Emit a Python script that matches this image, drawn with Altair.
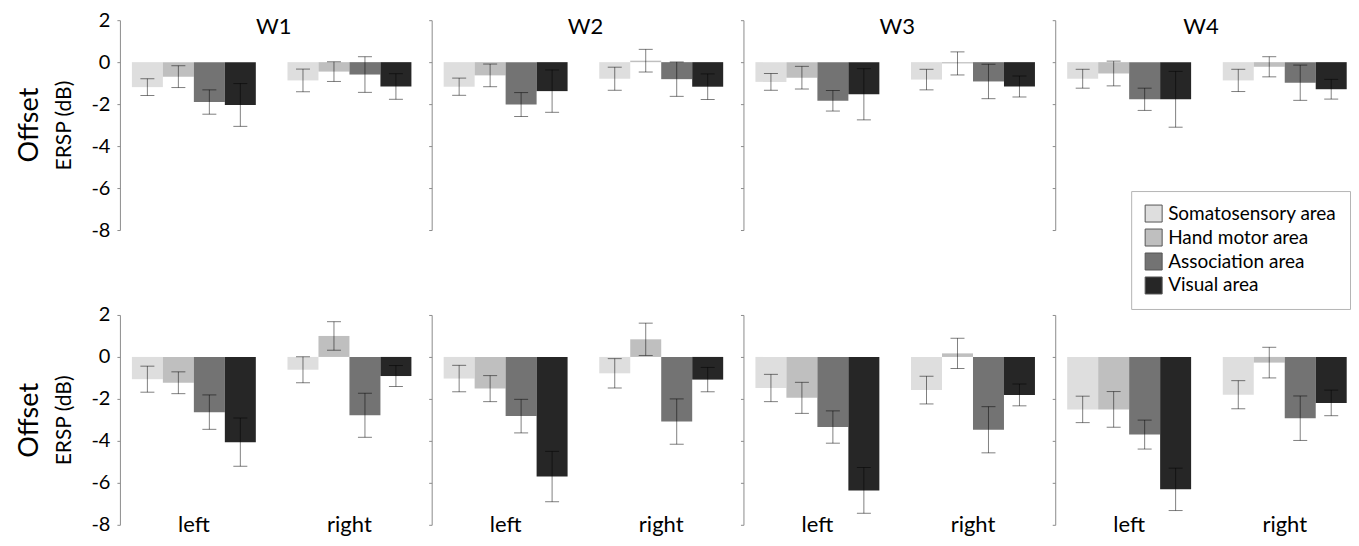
import altair as alt
import pandas as pd

weeks = ["W1", "W2", "W3", "W4"]
sides = ["left", "right"]
areas = ["Somatosensory area", "Hand motor area", "Association area", "Visual area"]
area_colors = ["#dedede", "#bfbfbf", "#737373", "#262626"]
y_ticks = [-8, -6, -4, -2, 0, 2]
row_label = "Offset"
y_title = "ERSP (dB)"

# values: left group (4 areas) then right group (4 areas)
top_w1_mean = [-1.19, -0.69, -1.90, -2.04, -0.87, -0.45, -0.59, -1.16]
top_w1_err = [0.40, 0.52, 0.58, 1.02, 0.54, 0.47, 0.85, 0.61]
top_w2_mean = [-1.17, -0.63, -2.02, -1.38, -0.79, 0.07, -0.81, -1.17]
top_w2_err = [0.41, 0.54, 0.57, 1.01, 0.55, 0.54, 0.82, 0.61]
top_w3_mean = [-0.94, -0.74, -1.84, -1.53, -0.83, -0.06, -0.92, -1.16]
top_w3_err = [0.40, 0.54, 0.49, 1.22, 0.49, 0.55, 0.82, 0.50]
top_w4_mean = [-0.79, -0.54, -1.77, -1.77, -0.87, -0.22, -0.98, -1.29]
top_w4_err = [0.45, 0.59, 0.53, 1.33, 0.53, 0.48, 0.84, 0.47]

bot_w1_mean = [-1.06, -1.23, -2.63, -4.06, -0.61, 1.00, -2.78, -0.91]
bot_w1_err = [0.62, 0.52, 0.82, 1.15, 0.62, 0.68, 1.05, 0.50]
bot_w2_mean = [-1.03, -1.51, -2.82, -5.70, -0.78, 0.84, -3.08, -1.08]
bot_w2_err = [0.63, 0.62, 0.80, 1.20, 0.70, 0.77, 1.08, 0.58]
bot_w3_mean = [-1.48, -1.95, -3.34, -6.36, -1.58, 0.17, -3.47, -1.81]
bot_w3_err = [0.65, 0.74, 0.77, 1.09, 0.66, 0.72, 1.10, 0.52]
bot_w4_mean = [-2.50, -2.50, -3.70, -6.31, -1.80, -0.27, -2.92, -2.19]
bot_w4_err = [0.63, 0.85, 0.69, 1.01, 0.67, 0.73, 1.06, 0.61]

top_means = [top_w1_mean, top_w2_mean, top_w3_mean, top_w4_mean]
top_errs = [top_w1_err, top_w2_err, top_w3_err, top_w4_err]
bot_means = [bot_w1_mean, bot_w2_mean, bot_w3_mean, bot_w4_mean]
bot_errs = [bot_w1_err, bot_w2_err, bot_w3_err, bot_w4_err]

FONT = "Lato"
PANEL_H = 210
ROW_GAP = 65
widths = [308, 308, 308, 292]
outer_pad = [0.0908, 0.0908, 0.0908, 0.0394]
aligns = [0.424, 0.424, 0.424, 0.976]
title_level = 1.35  # data level of panel-title baseline inside the top panels

legend = alt.Legend(
    orient="none", legendX=1012, legendY=171, title=None,
    symbolType="square", symbolSize=289, symbolStrokeColor="#555555",
    symbolStrokeWidth=1, labelFontSize=19, labelColor="black", labelFont=FONT,
    labelLimit=400, labelOffset=5, rowPadding=3, padding=13, strokeColor="#b5b5b5",
    fillColor="white", direction="vertical",
)


def make_df(week, means, errs):
    rows = []
    k = 0
    for s in sides:
        for a in areas:
            rows.append({"week": week, "side": s, "area": a, "mean": means[k],
                         "lo": means[k] - errs[k], "hi": means[k] + errs[k]})
            k += 1
    return pd.DataFrame(rows)


def panel(i, means, errs, bottom):
    week = weeks[i]
    first = i == 0
    df = make_df(week, means, errs)
    base = alt.Chart(df)

    xkw = {"title": None}
    if bottom:
        xkw["axis"] = alt.Axis(domain=False, ticks=False, labelFontSize=22,
                               labelPadding=-10, labelAngle=0, labelColor="black",
                               labelFont=FONT)
    else:
        xkw["axis"] = None
    x = alt.X("side:N", sort=sides,
              scale=alt.Scale(paddingInner=0.2035, paddingOuter=outer_pad[i], align=aligns[i]),
              **xkw)
    xo = alt.XOffset("area:N", sort=areas, scale=alt.Scale(paddingInner=0, paddingOuter=0))

    yaxis = alt.Axis(values=y_ticks, grid=False, domainColor="#8c8c8c", tickColor="#8c8c8c",
                     tickSize=3, labels=first, labelFontSize=20, labelColor="black",
                     labelFont=FONT, labelPadding=7, labelExpr="'' + datum.value",
                     titleFontSize=21, titleFontWeight="normal", titleColor="black",
                     titleFont=FONT, titlePadding=16)
    yscale = alt.Scale(domain=[-8, 2], nice=False, zero=False)
    ytitle = y_title if first else None

    color = alt.Color("area:N", sort=areas,
                      scale=alt.Scale(domain=areas, range=area_colors), legend=legend)

    bars = base.mark_bar().encode(
        x=x, xOffset=xo,
        y=alt.Y("mean:Q", scale=yscale, axis=yaxis, title=ytitle),
        y2=alt.datum(0),
        color=color,
    )
    err = base.mark_rule(color="black", opacity=0.5, strokeWidth=1).encode(
        x=x, xOffset=xo,
        y=alt.Y("lo:Q", scale=yscale, axis=yaxis, title=ytitle),
        y2="hi:Q",
    )
    cap_lo = base.mark_tick(color="black", opacity=0.5, size=14, thickness=1).encode(
        x=x, xOffset=xo, y=alt.Y("lo:Q", scale=yscale, axis=yaxis, title=ytitle))
    cap_hi = base.mark_tick(color="black", opacity=0.5, size=14, thickness=1).encode(
        x=x, xOffset=xo, y=alt.Y("hi:Q", scale=yscale, axis=yaxis, title=ytitle))

    layers = [bars, err, cap_lo, cap_hi]
    if not bottom:
        ttl = alt.Chart(pd.DataFrame({"week": [week]})).mark_text(
            fontSize=22, color="black", font=FONT, baseline="alphabetic", align="center"
        ).encode(
            text="week:N",
            x=alt.value(widths[i] / 2),
            y=alt.Y(datum=title_level, scale=yscale, axis=yaxis, title=ytitle),
        )
        layers.append(ttl)
    return alt.layer(*layers).properties(width=widths[i], height=PANEL_H)


row_title = alt.TitleParams(row_label, orient="left", fontSize=27, fontWeight="normal",
                            color="black", font=FONT, offset=10, anchor="middle")

top_row = alt.hconcat(*[panel(i, top_means[i], top_errs[i], False) for i in range(4)],
                      spacing=0).properties(title=row_title)
bot_row = alt.hconcat(*[panel(i, bot_means[i], bot_errs[i], True) for i in range(4)],
                      spacing=0).properties(title=row_title)

chart = alt.vconcat(top_row, bot_row, spacing=ROW_GAP).properties(
    padding={"left": 7, "top": 2, "right": 0, "bottom": 0}
).configure(font=FONT).configure_view(stroke=None)

chart.save("out.html", embed_options={"renderer": "svg", "actions": False})
